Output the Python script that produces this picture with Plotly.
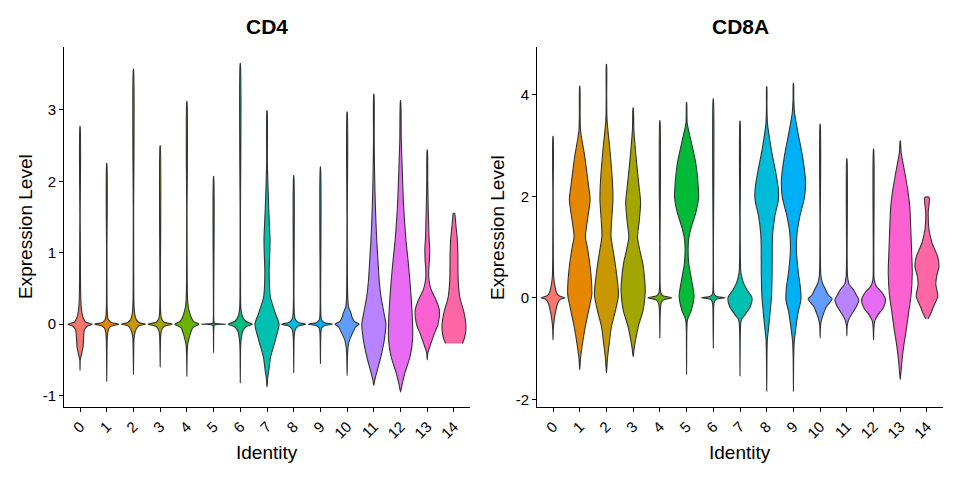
import plotly.graph_objects as go

identities = [str(i) for i in range(15)]
colors = ["#F8766D", "#E58700", "#C99800", "#A3A500", "#6BB100", "#00BA38", "#00BF7D",
          "#00C0AF", "#00BCD8", "#00B0F6", "#619CFF", "#B983FF", "#E76BF3", "#FD61D1", "#FF67A4"]

# violin outlines: [expression value, relative half-width (1 = widest)]
cd4_profiles = [
    [(-0.65, 0), (-0.5, 0.02), (-0.47, 0.06), (-0.41, 0.14), (-0.32, 0.25), (-0.18, 0.3), (-0.08, 0.37),
     (-0.03, 0.6), (0, 1.0), (0.03, 0.45), (0.1, 0.24), (0.2, 0.12), (0.38, 0.06), (0.62, 0.04), (1.0, 0.03),
     (1.5, 0.015), (2.77, 0.01)],
    [(-0.8, 0), (-0.5, 0.015), (-0.2, 0.04), (-0.12, 0.08), (-0.06, 0.17), (-0.025, 0.4), (0, 1.0),
     (0.025, 0.35), (0.06, 0.14), (0.12, 0.06), (0.3, 0.025), (1.0, 0.015), (2.25, 0.01)],
    [(-0.7, 0), (-0.4, 0.02), (-0.2, 0.05), (-0.11, 0.14), (-0.05, 0.3), (-0.02, 0.5), (0, 1.0), (0.02, 0.5),
     (0.06, 0.25), (0.13, 0.12), (0.25, 0.05), (0.5, 0.025), (1.5, 0.015), (3.57, 0.01)],
    [(-0.6, 0), (-0.3, 0.02), (-0.15, 0.05), (-0.08, 0.13), (-0.03, 0.35), (0, 1.0), (0.03, 0.3),
     (0.08, 0.11), (0.15, 0.05), (0.4, 0.02), (2.5, 0.01)],
    [(-0.73, 0), (-0.45, 0.02), (-0.3, 0.06), (-0.22, 0.15), (-0.13, 0.3), (-0.05, 0.5), (0, 1.0),
     (0.04, 0.55), (0.1, 0.35), (0.15, 0.25), (0.24, 0.12), (0.38, 0.05), (0.7, 0.025), (1.5, 0.015),
     (3.12, 0.01)],
    [(-0.4, 0), (-0.1, 0.015), (-0.02, 0.05), (-0.008, 0.15), (0, 1.0), (0.008, 0.15), (0.02, 0.05),
     (0.1, 0.015), (2.07, 0.01)],
    [(-0.82, 0), (-0.4, 0.02), (-0.25, 0.05), (-0.1, 0.2), (-0.04, 0.45), (0, 1.0), (0.04, 0.45), (0.1, 0.2),
     (0.2, 0.06), (0.4, 0.025), (1.5, 0.015), (3.65, 0.01)],
    [(-0.88, 0), (-0.75, 0.06), (-0.65, 0.15), (-0.46, 0.3), (-0.22, 0.7), (0, 1.0), (0.15, 0.7),
     (0.38, 0.28), (0.55, 0.2), (0.76, 0.18), (1.0, 0.23), (1.2, 0.25), (1.4, 0.2), (1.64, 0.14),
     (2.0, 0.07), (2.26, 0.03), (2.99, 0.01)],
    [(-0.68, 0), (-0.3, 0.02), (-0.15, 0.05), (-0.07, 0.14), (-0.025, 0.4), (0, 1.0), (0.025, 0.4),
     (0.07, 0.13), (0.15, 0.05), (0.4, 0.02), (2.08, 0.01)],
    [(-0.55, 0), (-0.25, 0.02), (-0.1, 0.05), (-0.05, 0.12), (-0.02, 0.35), (0, 1.0), (0.02, 0.35),
     (0.05, 0.12), (0.1, 0.05), (0.3, 0.02), (2.2, 0.01)],
    [(-0.72, 0), (-0.45, 0.03), (-0.32, 0.08), (-0.22, 0.2), (-0.11, 0.5), (-0.04, 0.7), (0, 1.0),
     (0.04, 0.6), (0.1, 0.4), (0.15, 0.33), (0.24, 0.12), (0.38, 0.05), (0.7, 0.025), (1.5, 0.015),
     (2.97, 0.01)],
    [(-0.86, 0), (-0.78, 0.08), (-0.65, 0.28), (-0.46, 0.58), (-0.22, 0.87), (0, 1.0), (0.15, 0.85),
     (0.38, 0.6), (0.6, 0.45), (0.85, 0.36), (1.18, 0.24), (1.64, 0.13), (2.12, 0.06), (2.6, 0.03),
     (3.22, 0.01)],
    [(-0.95, 0), (-0.85, 0.12), (-0.69, 0.35), (-0.46, 0.78), (-0.22, 1.0), (0, 1.0), (0.38, 0.88),
     (0.85, 0.65), (1.18, 0.45), (1.64, 0.26), (2.12, 0.15), (2.59, 0.06), (3.13, 0.01)],
    [(-0.5, 0), (-0.4, 0.05), (-0.32, 0.2), (-0.13, 0.6), (0.0, 0.9), (0.2, 1.0), (0.35, 0.7), (0.48, 0.33),
     (0.62, 0.14), (0.75, 0.12), (0.9, 0.18), (1.05, 0.2), (1.2, 0.15), (1.64, 0.08), (2.0, 0.04),
     (2.44, 0.01)],
    [(-0.27, 0.7), (-0.18, 0.9), (-0.04, 1.0), (0.15, 0.85), (0.38, 0.48), (0.62, 0.35), (1.0, 0.32),
     (1.2, 0.27), (1.35, 0.18), (1.5, 0.1), (1.55, 0.06)],
]

cd8a_profiles = [
    [(-0.83, 0), (-0.6, 0.03), (-0.43, 0.1), (-0.24, 0.24), (-0.1, 0.4), (-0.03, 0.6), (0, 1.0), (0.04, 0.5),
     (0.1, 0.3), (0.22, 0.17), (0.4, 0.06), (0.8, 0.025), (2.0, 0.015), (3.18, 0.01)],
    [(-1.42, 0), (-1.2, 0.06), (-0.96, 0.19), (-0.56, 0.47), (-0.24, 0.75), (0.06, 1.0), (0.35, 0.97),
     (0.68, 0.83), (1.01, 0.62), (1.2, 0.47), (1.5, 0.62), (1.93, 0.86), (2.26, 0.7), (2.78, 0.42),
     (3.11, 0.18), (3.31, 0.06), (3.6, 0.03), (4.17, 0.01)],
    [(-1.48, 0), (-1.2, 0.08), (-0.96, 0.2), (-0.56, 0.42), (-0.24, 0.76), (0.06, 1.0), (0.55, 0.8),
     (0.94, 0.55), (1.2, 0.38), (1.48, 0.42), (1.93, 0.54), (2.32, 0.49), (2.91, 0.29), (3.5, 0.05),
     (4.0, 0.02), (4.6, 0.01)],
    [(-1.16, 0), (-1.0, 0.08), (-0.83, 0.2), (-0.56, 0.43), (-0.24, 0.83), (0.1, 1.0), (0.3, 0.98),
     (0.68, 0.8), (0.94, 0.55), (1.2, 0.36), (1.48, 0.49), (1.87, 0.62), (2.26, 0.46), (2.78, 0.24),
     (3.31, 0.06), (3.74, 0.01)],
    [(-0.79, 0), (-0.4, 0.02), (-0.2, 0.05), (-0.1, 0.12), (-0.04, 0.3), (0, 1.0), (0.04, 0.25), (0.1, 0.08),
     (0.2, 0.03), (1.0, 0.015), (3.49, 0.01)],
    [(-1.51, 0), (-0.6, 0.025), (-0.43, 0.08), (-0.24, 0.4), (0.03, 0.62), (0.35, 0.42), (0.68, 0.18),
     (1.01, 0.13), (1.2, 0.2), (1.4, 0.4), (1.67, 0.76), (1.97, 1.0), (2.19, 0.97), (2.66, 0.76),
     (3.11, 0.35), (3.44, 0.05), (3.85, 0.01)],
    [(-0.99, 0), (-0.4, 0.02), (-0.15, 0.04), (-0.07, 0.1), (-0.025, 0.3), (0, 1.0), (0.025, 0.3),
     (0.07, 0.08), (0.15, 0.03), (1.0, 0.015), (3.92, 0.01)],
    [(-1.54, 0), (-0.8, 0.02), (-0.55, 0.05), (-0.43, 0.12), (-0.33, 0.42), (-0.17, 0.86), (0, 1.0),
     (0.16, 0.58), (0.3, 0.28), (0.49, 0.08), (0.8, 0.03), (1.5, 0.015), (3.48, 0.01)],
    [(-1.84, 0), (-1.2, 0.02), (-0.83, 0.05), (-0.63, 0.14), (-0.37, 0.25), (0.03, 0.4), (0.5, 0.45),
     (1.01, 0.46), (1.27, 0.5), (1.6, 0.67), (1.93, 0.97), (2.13, 0.97), (2.46, 0.76), (2.91, 0.39),
     (3.44, 0.06), (3.8, 0.02), (4.16, 0.01)],
    [(-1.84, 0), (-1.2, 0.02), (-0.89, 0.06), (-0.63, 0.18), (-0.3, 0.38), (-0.04, 0.62), (0.16, 0.6),
     (0.55, 0.38), (0.94, 0.25), (1.27, 0.3), (1.6, 0.53), (1.99, 0.93), (2.32, 1.0), (2.78, 0.76),
     (3.25, 0.38), (3.64, 0.1), (3.9, 0.03), (4.23, 0.01)],
    [(-0.79, 0), (-0.55, 0.03), (-0.43, 0.12), (-0.3, 0.3), (-0.17, 0.53), (-0.02, 1.0), (0.05, 0.7),
     (0.16, 0.46), (0.3, 0.18), (0.45, 0.06), (0.8, 0.025), (1.5, 0.015), (3.42, 0.01)],
    [(-0.75, 0), (-0.55, 0.03), (-0.43, 0.15), (-0.3, 0.46), (-0.17, 0.8), (-0.04, 1.0), (0.05, 0.8),
     (0.16, 0.55), (0.26, 0.2), (0.42, 0.06), (0.8, 0.025), (2.74, 0.01)],
    [(-0.83, 0), (-0.6, 0.03), (-0.46, 0.1), (-0.33, 0.38), (-0.2, 0.8), (-0.04, 1.0), (0.05, 0.85),
     (0.12, 0.65), (0.22, 0.25), (0.35, 0.06), (0.8, 0.025), (2.93, 0.01)],
    [(-1.61, 0), (-1.29, 0.12), (-0.96, 0.28), (-0.63, 0.5), (-0.3, 0.69), (0.03, 0.89), (0.49, 1.0),
     (0.94, 0.94), (1.34, 0.88), (1.8, 0.79), (2.13, 0.62), (2.46, 0.38), (2.85, 0.08), (3.09, 0.01)],
    [(-0.41, 0.1), (-0.33, 0.28), (-0.17, 0.55), (0.03, 0.9), (0.26, 0.74), (0.42, 0.8), (0.62, 1.0),
     (0.81, 0.89), (1.08, 0.42), (1.34, 0.17), (1.67, 0.1), (1.98, 0.18)],
]

genes = ["CD4", "CD8A"]
cd4_yticks = [-1, 0, 1, 2, 3]
cd4_yticklabels = ["-1", "0", "1", "2", "3"]
cd8a_yticks = [-2, 0, 2, 4]
cd8a_yticklabels = ["-2", "0", "2", "4"]

HALF = 0.45  # ggplot violin width 0.9
FONT = "Liberation Sans, Arial, sans-serif"

# the page body has an 8px margin; figure is sized to fit the 960x480 window
W, H, OFF = 952, 472, 8


def px(x):
    return (x - OFF) / W


def py(y):
    return 1 - (y - OFF) / H


fig = go.Figure()
for panel, profiles in enumerate([cd4_profiles, cd8a_profiles]):
    xa = "x" if panel == 0 else "x2"
    ya = "y" if panel == 0 else "y2"
    for i, prof in enumerate(profiles):
        vals = [p[0] for p in prof]
        ws = [p[1] for p in prof]
        xs = [i + HALF * w for w in ws] + [i - HALF * w for w in reversed(ws)]
        ys = vals + vals[::-1]
        fig.add_trace(go.Scatter(
            x=xs, y=ys, xaxis=xa, yaxis=ya, mode="lines", fill="toself",
            fillcolor=colors[i], line=dict(color="#333333", width=1.1, shape="spline", smoothing=0.7),
            hoverinfo="skip", showlegend=False))

common_x = dict(range=[-0.6, 14.6], tickvals=list(range(15)), ticktext=identities, tickangle=-45,
                showline=True, linecolor="black", linewidth=1, ticks="outside", ticklen=4,
                tickcolor="black", tickwidth=1, showgrid=False, zeroline=False,
                tickfont=dict(size=15, color="black", family=FONT))
common_y = dict(domain=[py(407), py(47)], showline=True, linecolor="black", linewidth=1,
                ticks="outside", ticklen=4, tickcolor="black", tickwidth=1, showgrid=False,
                zeroline=False, tickfont=dict(size=15, color="black", family=FONT))

fig.update_layout(
    width=W, height=H, margin=dict(l=0, r=0, t=0, b=0),
    paper_bgcolor="white", plot_bgcolor="white", showlegend=False,
    font=dict(family=FONT, color="black"),
    xaxis=dict(domain=[px(64), px(470)], anchor="y", **common_x),
    xaxis2=dict(domain=[px(537), px(943)], anchor="y2", **common_x),
    yaxis=dict(range=[-1.16, 3.88], tickvals=cd4_yticks, ticktext=cd4_yticklabels, anchor="x",
               **common_y),
    yaxis2=dict(range=[-2.15, 4.94], tickvals=cd8a_yticks, ticktext=cd8a_yticklabels, anchor="x2",
                **common_y),
)

annos = []
for cx, ylab_x, g in [(267, 25, genes[0]), (740, 497, genes[1])]:
    annos.append(dict(text="<b>%s</b>" % g, x=px(cx), y=py(26), xref="paper", yref="paper",
                      showarrow=False, font=dict(size=21, family=FONT, color="black"),
                      xanchor="center", yanchor="middle"))
    annos.append(dict(text="Identity", x=px(cx), y=py(452), xref="paper", yref="paper",
                      showarrow=False, font=dict(size=19, family=FONT, color="black"),
                      xanchor="center", yanchor="middle"))
    annos.append(dict(text="Expression Level", x=px(ylab_x), y=py(227), xref="paper",
                      yref="paper", showarrow=False, textangle=-90,
                      font=dict(size=19, family=FONT, color="black"),
                      xanchor="center", yanchor="middle"))
fig.update_layout(annotations=annos)

fig.write_html("out.html")
